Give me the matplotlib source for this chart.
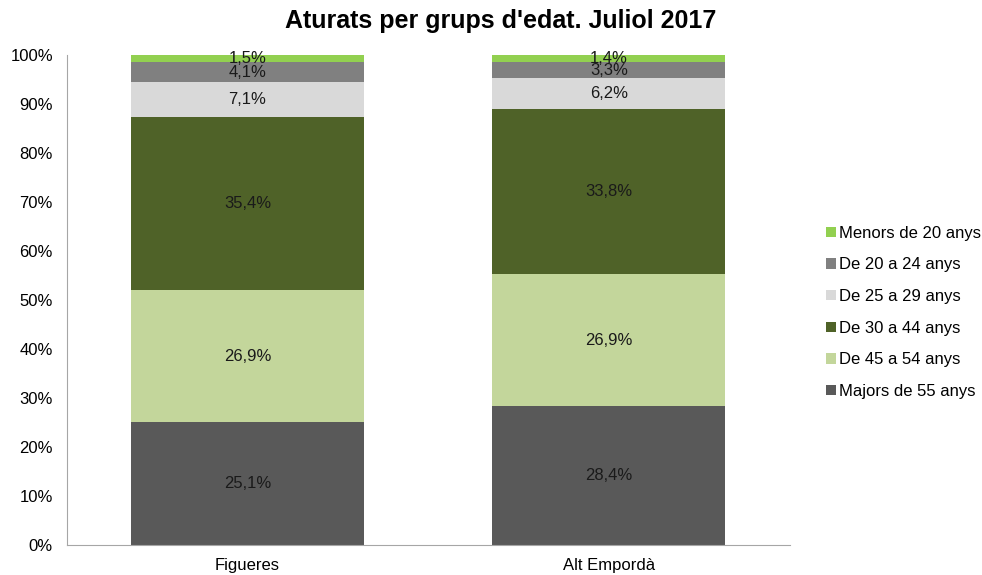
import matplotlib.pyplot as plt
import numpy as np

plt.rcParams['font.family'] = ['Liberation Sans', 'DejaVu Sans']

zones = ['Figueres', 'Alt Empordà']
groups = ['Majors de 55 anys', 'De 45 a 54 anys', 'De 30 a 44 anys',
          'De 25 a 29 anys', 'De 20 a 24 anys', 'Menors de 20 anys']
values = {
    'Majors de 55 anys': [25.1, 28.4],
    'De 45 a 54 anys': [26.9, 26.9],
    'De 30 a 44 anys': [35.4, 33.8],
    'De 25 a 29 anys': [7.1, 6.2],
    'De 20 a 24 anys': [4.1, 3.3],
    'Menors de 20 anys': [1.5, 1.4],
}
colors = ['#595959', '#C3D69B', '#4F6228', '#D9D9D9', '#808080', '#92D050']

fig = plt.figure(figsize=(9.82, 5.75), dpi=100)
ax = fig.add_axes([0.068, 0.052, 0.736, 0.852])

x = np.arange(len(zones))
bottom = np.zeros(len(zones))
handles = []
for g, c in zip(groups, colors):
    v = np.array(values[g])
    b = ax.bar(x, v, 0.645, bottom=bottom, color=c, label=g)
    handles.append(b)
    for xi, vi, bi in zip(x, v, bottom):
        ax.text(xi, bi + vi / 2, f'{vi:.1f}%'.replace('.', ','),
                ha='center', va='center', fontsize=12, color='#1a1a1a')
    bottom += v

ax.set_xlim(-0.5, 1.5)
ax.set_ylim(0, 100)
ax.set_xticks(x)
ax.set_xticklabels(zones, fontsize=12)
ax.set_yticks(np.arange(0, 101, 10))
ax.set_yticklabels([f'{t}%' for t in range(0, 101, 10)], fontsize=12)
ax.tick_params(axis='y', length=0, pad=10)
ax.tick_params(axis='x', length=0, pad=9)
for s in ['top', 'right']:
    ax.spines[s].set_visible(False)
for s in ['left', 'bottom']:
    ax.spines[s].set_color('#A6A6A6')

fig.suptitle("Aturats per grups d'edat. Juliol 2017", x=0.51, y=0.985,
             fontsize=18, fontweight='bold')

ax.legend(handles[::-1], groups[::-1], loc='center left', bbox_to_anchor=(1.03, 0.475),
          frameon=False, fontsize=12, handlelength=0.6, handleheight=0.6,
          handletextpad=0.15, labelspacing=1.0)

fig.savefig('out.png', dpi=100)
